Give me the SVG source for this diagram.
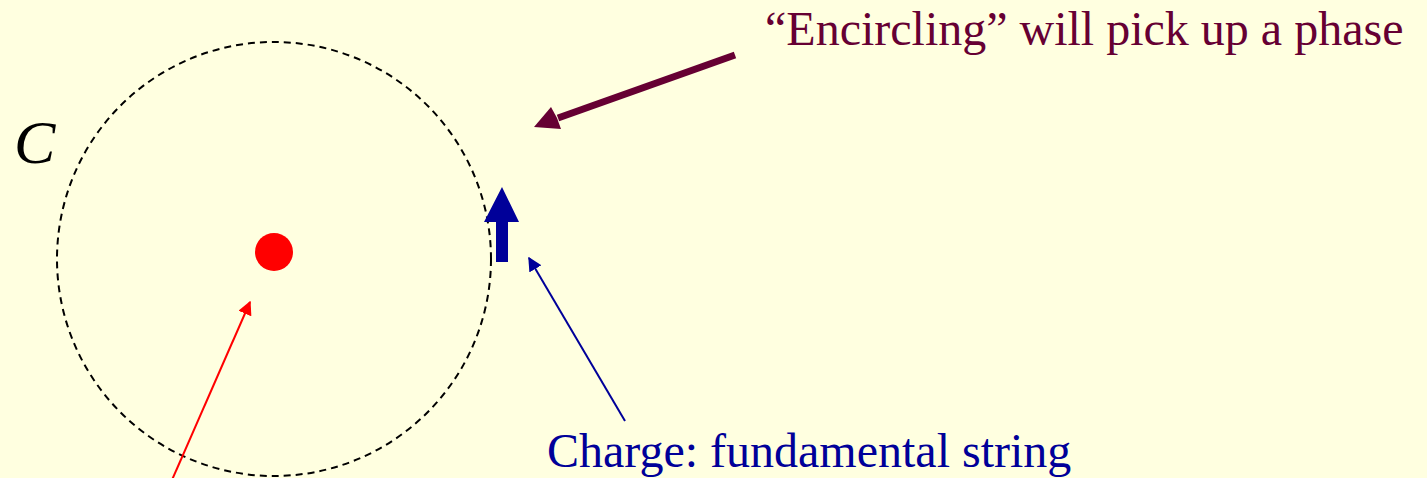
<svg xmlns="http://www.w3.org/2000/svg" width="1427" height="478" viewBox="0 0 1427 478">
<style>
.t{font-family:"Liberation Serif","Times New Roman",serif;font-size:48px}
</style>
<defs>
<marker id="mRed" viewBox="0 0 10 10" refX="9" refY="5" markerWidth="14" markerHeight="14" markerUnits="userSpaceOnUse" orient="auto"><path d="M0,0 L10,5 L0,10 z" fill="#FF0000"/></marker>
<marker id="mBlue" viewBox="0 0 10 10" refX="9" refY="5" markerWidth="14" markerHeight="14" markerUnits="userSpaceOnUse" orient="auto"><path d="M0,0 L10,5 L0,10 z" fill="#000099"/></marker>
</defs>
<rect width="1427" height="478" fill="#FFFFE0"/>
<g id="circle-C">
<circle cx="274" cy="259" r="217" fill="none" stroke="#000" stroke-width="2" stroke-dasharray="7 5"/>
<text x="14" y="163" font-family="'Liberation Serif','Times New Roman',serif" font-style="italic" font-size="62">C</text>
</g>
<g id="charge-dot">
<circle cx="274" cy="252" r="19" fill="#FF0000"/>
</g>
<g id="string-arrow">
<path d="M496,262 L508,262 L508,222 L519,222 L502,187 L484,222 L496,222 z" fill="#000099"/>
</g>
<g id="label-phase">
<text class="t" x="765" y="45" fill="#660033">“Encircling” will pick up a phase</text>
</g>
<g id="label-charge">
<text class="t" x="547" y="467" fill="#000099">Charge: fundamental string</text>
</g>
<g id="connectors">
<line x1="735" y1="55" x2="558" y2="118" stroke="#660033" stroke-width="7"/>
<path d="M534,127 L551,107 L557,118 L561,129 z" fill="#660033"/>
<line x1="172" y1="480" x2="250" y2="302" stroke="#FF0000" stroke-width="2" marker-end="url(#mRed)"/>
<line x1="625" y1="421" x2="529" y2="258" stroke="#000099" stroke-width="2" marker-end="url(#mBlue)"/>
</g>
</svg>
